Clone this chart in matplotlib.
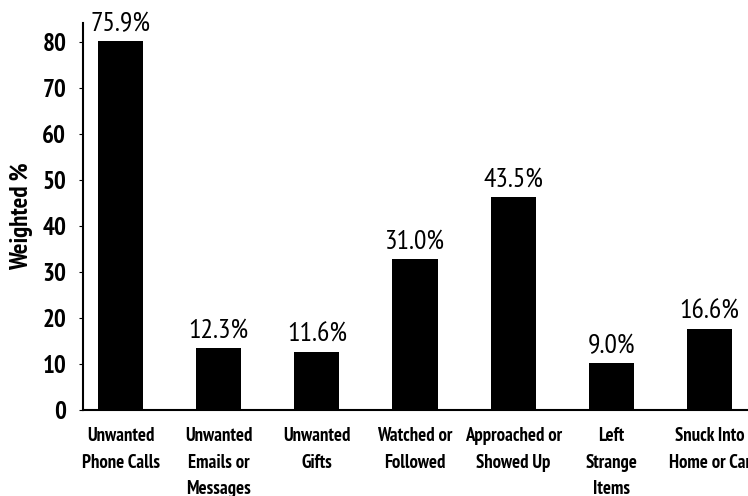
import matplotlib
matplotlib.use("Agg")
import matplotlib.pyplot as plt

categories = ["Unwanted\nPhone Calls", "Unwanted\nEmails or\nMessages", "Unwanted\nGifts",
              "Watched or\nFollowed", "Approached or\nShowed Up", "Left\nStrange\nItems",
              "Snuck Into\nHome or Car"]
bar_heights = [80.2, 13.6, 12.7, 32.9, 46.3, 10.2, 17.7]
value_labels = ["75.9%", "12.3%", "11.6%", "31.0%", "43.5%", "9.0%", "16.6%"]
yticks = [0, 10, 20, 30, 40, 50, 60, 70, 80]

FONT = ["PT Sans Narrow", "DejaVu Sans"]
plt.rcParams["font.family"] = FONT

fig = plt.figure(figsize=(7.48, 4.96), dpi=100)
ax = fig.add_axes([0.111, 0.173, 0.889, 0.781])

x = list(range(len(categories)))
ax.bar(x, bar_heights, width=0.46, color="black")
for xi, h, lab in zip(x, bar_heights, value_labels):
    ax.annotate(lab, (xi, h), xytext=(0, 3.5), textcoords="offset points",
                ha="center", va="bottom", fontsize=20, family=FONT)

ax.set_xlim(-0.382, 6.392)
ax.set_ylim(0, 84.1)
ax.set_yticks(yticks)
ax.set_yticklabels([str(t) for t in yticks], fontsize=18, fontweight="bold", family=FONT)
ax.set_xticks(x)
ax.set_xticklabels(categories, fontsize=13.5, fontweight="bold", family=FONT, linespacing=1.62)
ax.tick_params(axis="x", length=0, pad=12)
ax.tick_params(axis="y", length=3, width=0.8, pad=9, direction="out")
ax.set_ylabel("Weighted %", fontsize=18, fontweight="bold", family=FONT)
ax.yaxis.set_label_coords(-0.075, 0.5)
for s in ["top", "right"]:
    ax.spines[s].set_visible(False)
for s in ["left", "bottom"]:
    ax.spines[s].set_linewidth(1.5)

fig.savefig("out.png", dpi=100)
